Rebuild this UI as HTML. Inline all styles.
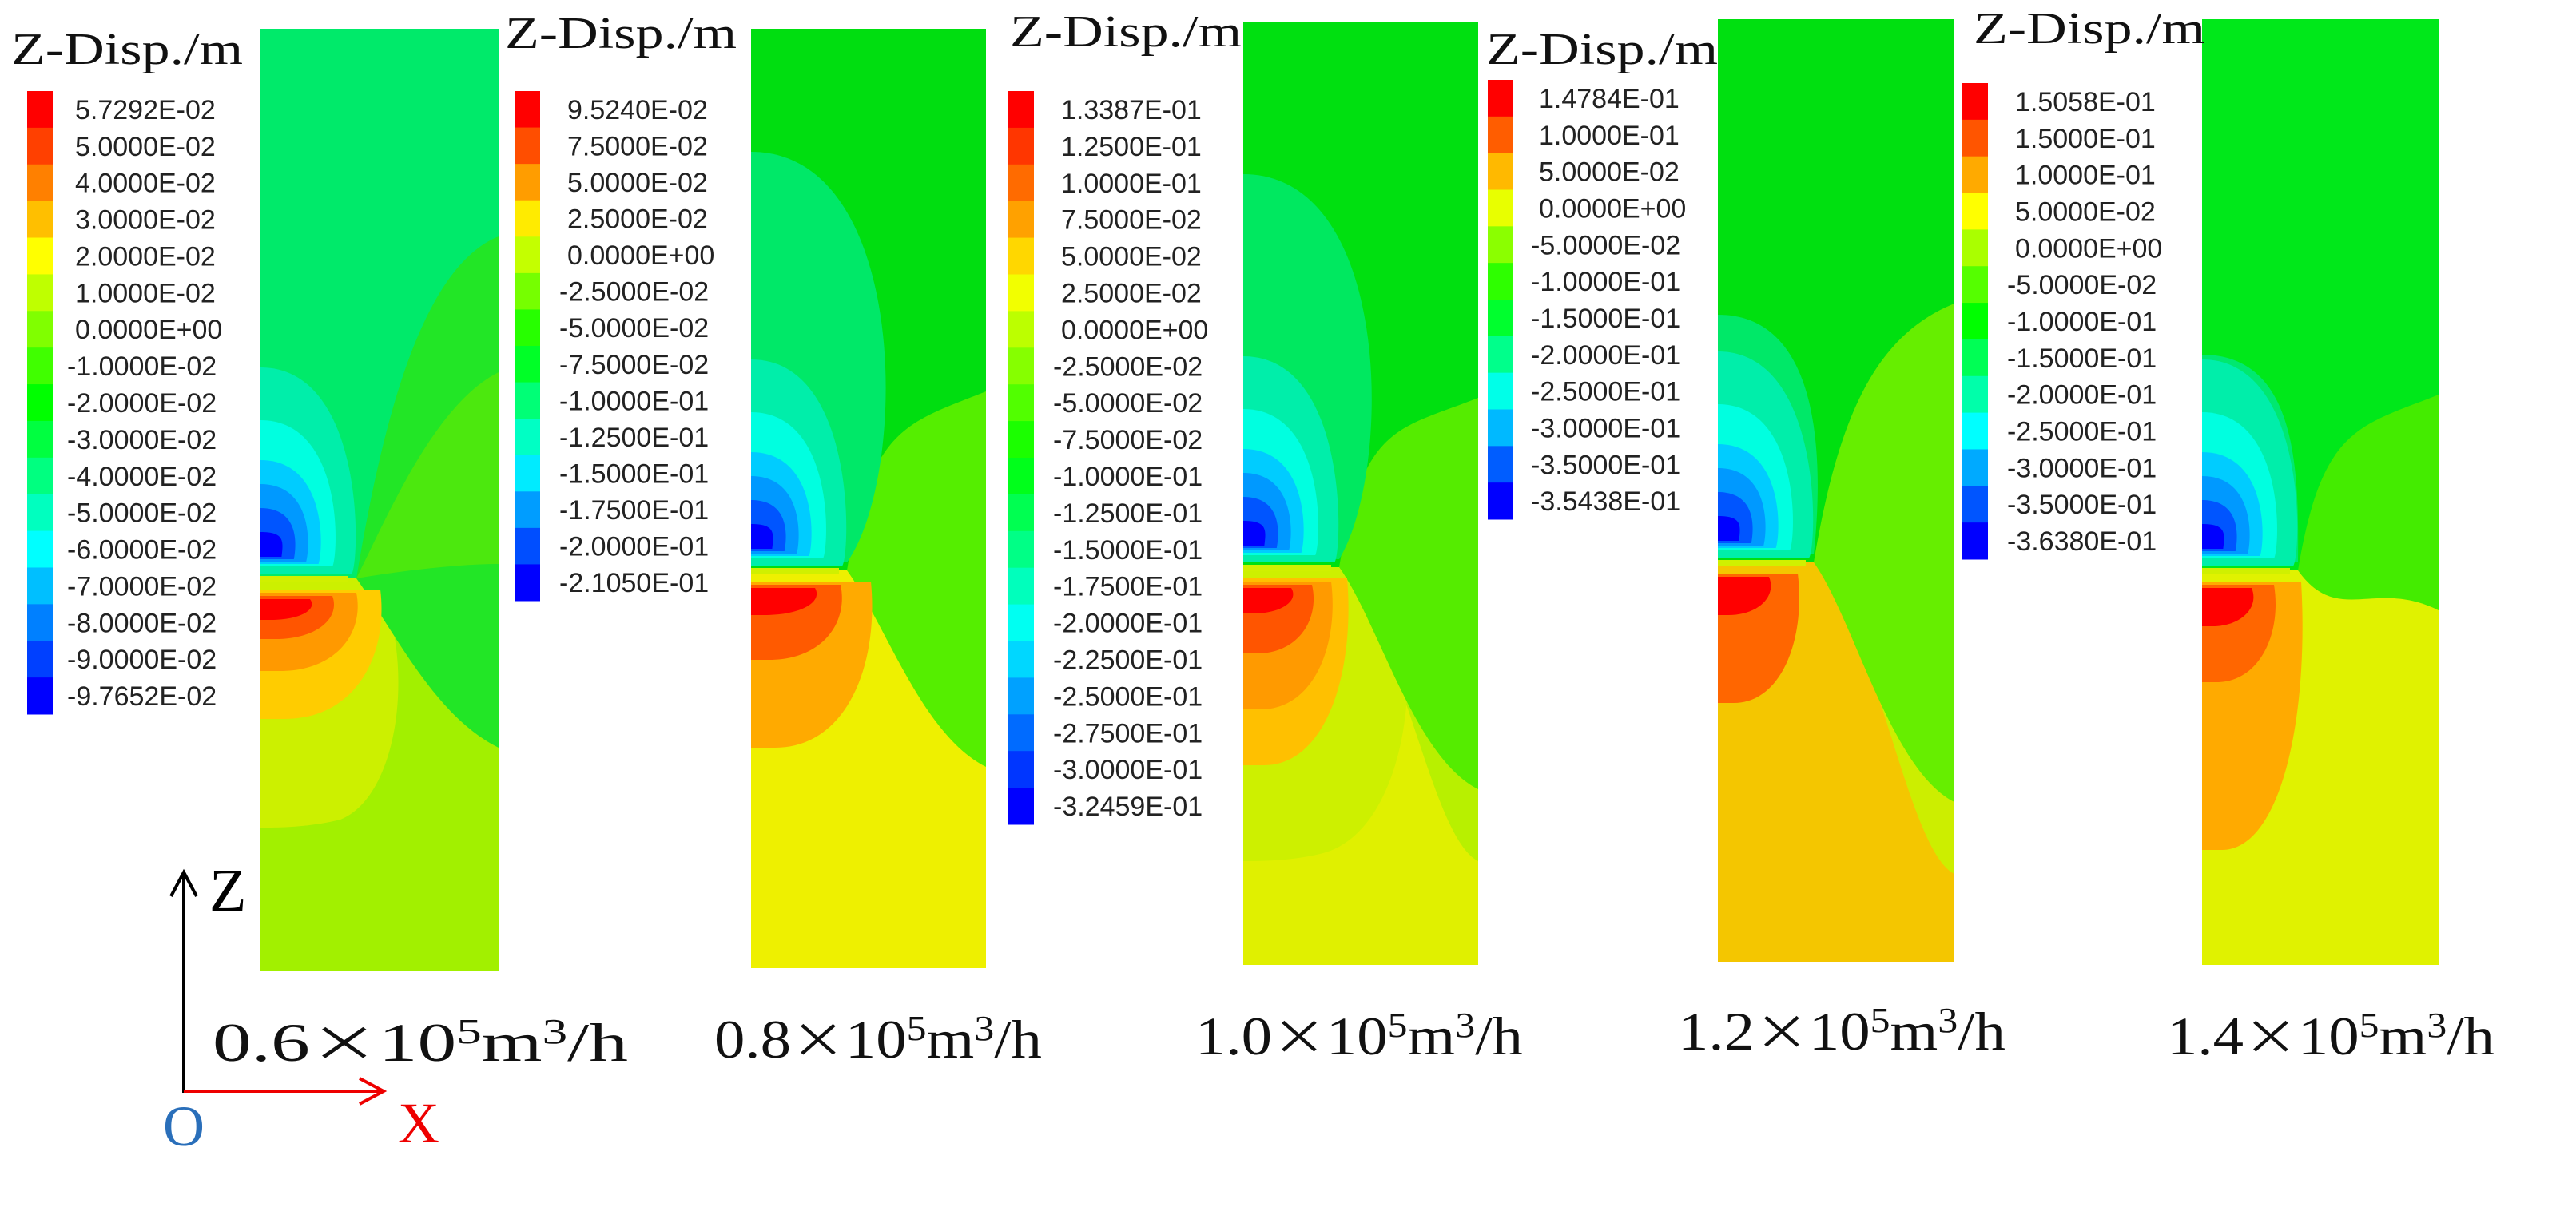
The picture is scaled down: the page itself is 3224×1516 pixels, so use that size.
<!DOCTYPE html>
<html><head><meta charset="utf-8"><style>
html,body{margin:0;padding:0;background:#fff}
svg{display:block}
.lg{font-family:"Liberation Sans",sans-serif;font-size:34px;fill:#222}
.tt{font-family:"Liberation Serif",serif;font-size:56px;fill:#111}
.cap{font-family:"Liberation Serif",serif;font-size:68px;fill:#111}
</style></head><body>
<svg id="fig" width="3224" height="1516" viewBox="0 0 3224 1516" xmlns="http://www.w3.org/2000/svg">
<g id="fields"></g>
<g id="legends"></g>
<g>
<line x1="230" y1="1368" x2="230" y2="1096" stroke="#000" stroke-width="4"/>
<path d="M214,1122 L230,1092 L246,1122" fill="none" stroke="#000" stroke-width="4"/>
<line x1="230" y1="1366" x2="476" y2="1366" stroke="#e00" stroke-width="4"/>
<path d="M450,1350 L480,1366 L450,1382" fill="none" stroke="#e00" stroke-width="4"/>
<text x="262" y="1140" font-family="Liberation Serif,serif" font-size="76">Z</text>
<text x="204" y="1434" font-family="Liberation Serif,serif" font-size="72" fill="#2a6fba">O</text>
<text x="498" y="1430" font-family="Liberation Serif,serif" font-size="72" fill="#e00">X</text>
</g>
</svg>
<script>
const flowRates = ["0.6","0.8","1.0","1.2","1.4"];
const legend1 = ["5.7292E-02","5.0000E-02","4.0000E-02","3.0000E-02","2.0000E-02","1.0000E-02","0.0000E+00","-1.0000E-02","-2.0000E-02","-3.0000E-02","-4.0000E-02","-5.0000E-02","-6.0000E-02","-7.0000E-02","-8.0000E-02","-9.0000E-02","-9.7652E-02"];
const legend2 = ["9.5240E-02","7.5000E-02","5.0000E-02","2.5000E-02","0.0000E+00","-2.5000E-02","-5.0000E-02","-7.5000E-02","-1.0000E-01","-1.2500E-01","-1.5000E-01","-1.7500E-01","-2.0000E-01","-2.1050E-01"];
const legend3 = ["1.3387E-01","1.2500E-01","1.0000E-01","7.5000E-02","5.0000E-02","2.5000E-02","0.0000E+00","-2.5000E-02","-5.0000E-02","-7.5000E-02","-1.0000E-01","-1.2500E-01","-1.5000E-01","-1.7500E-01","-2.0000E-01","-2.2500E-01","-2.5000E-01","-2.7500E-01","-3.0000E-01","-3.2459E-01"];
const legend4 = ["1.4784E-01","1.0000E-01","5.0000E-02","0.0000E+00","-5.0000E-02","-1.0000E-01","-1.5000E-01","-2.0000E-01","-2.5000E-01","-3.0000E-01","-3.5000E-01","-3.5438E-01"];
const legend5 = ["1.5058E-01","1.5000E-01","1.0000E-01","5.0000E-02","0.0000E+00","-5.0000E-02","-1.0000E-01","-1.5000E-01","-2.0000E-01","-2.5000E-01","-3.0000E-01","-3.5000E-01","-3.6380E-01"];

const NS="http://www.w3.org/2000/svg";
function mk(tag,attrs,parent){const e=document.createElementNS(NS,tag);for(const k in attrs)e.setAttribute(k,attrs[k]);parent.appendChild(e);return e;}

const panels=[
 {x:326,y:36,w:298,h:1180,s:688,top:"#00ea6a",lobe:null,wedge:"#22e626",wedge2:"#4ce80e",wA:260,wB:900,w2A:430,w2B:670,low:"#a2f000",yl:"#ccf000",ylD:1000,ylX:175,or:["#ffcc00","#ff9900","#ff5500","#ff0000"],orD:[864,804,764,740],orX:[150,120,90,62],lowR:null,
  leg:{bx:34,by:114,bh:780,tx:84,title:[14,80]}},
 {x:940,y:36,w:294,h:1176,s:678,top:"#00de10",lobe:["#00e868",154,180],wedge:"#55ee00",wedge2:null,wA:454,wB:924,low:"#eef000",yl:null,or:["#ffaa00","#ff5a00","#ff0000"],orD:[900,790,734],orX:[150,112,80],lowR:null,
  leg:{bx:644,by:114,bh:638,tx:700,title:[632,60]}},
 {x:1556,y:28,w:294,h:1180,s:682,top:"#00e010",lobe:["#00e860",190,170],wedge:"#55ec00",wedge2:null,wA:470,wB:960,low:"#e0f000",yl:"#cdf000",ylD:1050,ylX:210,or:["#ffc000","#ff9a00","#ff5500","#ff0000"],orD:[930,860,790,740],orX:[130,110,86,60],lowR:"#b8f000",
  leg:{bx:1262,by:114,bh:918,tx:1318,title:[1264,58]}},
 {x:2150,y:24,w:296,h:1180,s:680,top:"#00e010",lobe:["#00e868",370,120],wedge:"#66ee00",wedge2:null,wA:356,wB:980,low:"#f4c600",yl:null,or:["#ff6600","#ff0000"],orD:[856,746],orX:[100,64],lowR:"#ccee00",
  leg:{bx:1862,by:100,bh:550,tx:1916,title:[1860,80]}},
 {x:2756,y:24,w:296,h:1184,s:690,top:"#00e81a",lobe:["#00e870",420,110],wedge:"#44ec00",wedge2:null,wA:470,wB:740,low:"#e0f200",yl:null,or:["#ffaa00","#ff6600","#ff0000"],orD:[1040,830,760],orX:[124,90,62],lowR:null,
  leg:{bx:2456,by:104,bh:596,tx:2512,title:[2470,54]}}
];
const legends=[legend1,legend2,legend3,legend4,legend5];
const blueCols=["#00eeaa","#00ffe0","#00ccff","#0099ff","#0055ff","#0000ff"];

const fg=document.getElementById('fields');
const lgG=document.getElementById('legends');
const svg=document.getElementById('fig');

panels.forEach((p,i)=>{
  const g=mk('g',{transform:`translate(${p.x},${p.y})`},fg);
  
  
  const W=p.w,H=p.h,s=p.s;
  mk('rect',{x:0,y:0,width:W,height:s,fill:p.top},g);
  mk('rect',{x:0,y:s,width:W,height:H-s,fill:p.low},g);
  if(p.lowR) mk('path',{d:`M120,${s} C200,${s+80} ${W-60},${p.wB+60} ${W},${p.wB+90} L${W},${s} Z`,fill:p.lowR},g);
  if(p.yl) mk('path',{d:`M0,${s} L${p.ylX-30},${s} C${p.ylX+20},${s+100} ${p.ylX},${p.ylD-40} 100,${p.ylD-10} C60,${p.ylD} 20,${p.ylD} 0,${p.ylD} Z`,fill:p.yl},g);
  mk('path',{d:`M${W},${p.wA} C${W-100},${p.wA+40} 150,${s-180} 120,${s} C170,${s+70} ${W-80},${p.wB-40} ${W},${p.wB} Z`,fill:p.wedge},g);
  if(p.wedge2) mk('path',{d:`M${W},${p.w2A} C${W-80},${p.w2A+40} 160,${s-80} 120,${s} C180,${s-10} 250,${p.w2B} ${W},${p.w2B} Z`,fill:p.wedge2},g);
  if(p.lobe){const [c,t,rx]=p.lobe; mk('path',{d:`M0,${t} C${rx*1.1},${t} ${rx*1.1},${s-120} 120,${s-10} L0,${s-10} Z`,fill:c},g);}
  const tops=[s-264,s-198,s-148,s-118,s-88,s-58], rxs=[104,82,66,52,38,24];
  blueCols.forEach((c,k)=>{const t=tops[k],rx=rxs[k],b=s-(k<1?6:12+k*3);
    mk('path',{d:`M0,${t} C${rx*1.25},${t} ${rx*1.2},${b-20} ${rx*1.1},${b} L0,${b} Z`,fill:c},g);});
  p.or.forEach((c,k)=>{const d=p.orD[k],rx=p.orX[k],t=s+14+k*4;
    mk('path',{d:`M0,${t} L${rx},${t} C${rx+10},${t+(d-t)*0.5} ${rx*0.8},${d} ${rx*0.2},${d} L0,${d} Z`,fill:c},g);});
  mk('rect',{x:0,y:s-3,width:110,height:8,fill:"#d0f000"},g);

  const L=p.leg, labs=legends[i];
  const lg=mk('g',{},lgG);
  
  
  const tt=mk('text',{x:L.title[0],y:L.title[1],class:'tt',textLength:290,lengthAdjust:'spacingAndGlyphs'},lg);
  tt.textContent="Z-Disp./m";
  
  
  const step=L.bh/labs.length;
  labs.forEach((v,k)=>{
    const hue=k/(labs.length-1)*240;
    const r=mk('rect',{x:L.bx,y:L.by+k*step,width:32,height:step+0.5,fill:`hsl(${hue},100%,50%)`},lg);
    
    
    const t=mk('text',{x:L.tx+(v[0]==='-'?0:10),y:L.by+k*step+step/2+12,class:'lg'},lg);
    t.textContent=v;
    
    
  });
});

const capX=[266,894,1496,2100,2712], capY=[1328,1324,1320,1314,1320];
flowRates.forEach((f,i)=>{
  const t=mk('text',{x:capX[i],y:capY[i],class:'cap',textLength:(i===0?520:410),lengthAdjust:'spacingAndGlyphs'},svg);
  
  
  t.innerHTML=f+'<tspan font-family="Noto Sans CJK SC, sans-serif" font-size="60">×</tspan>10<tspan font-size="44" dy="-22">5</tspan><tspan dy="22">m</tspan><tspan font-size="44" dy="-22">3</tspan><tspan dy="22">/h</tspan>';
});
</script>
</body></html>
